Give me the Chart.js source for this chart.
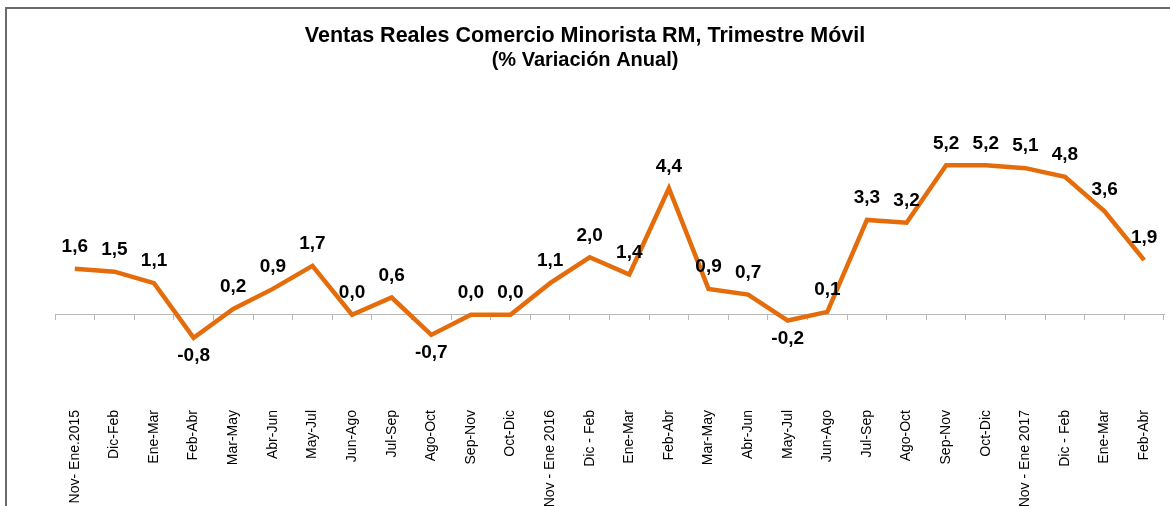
<!DOCTYPE html>
<html>
<head>
<meta charset="utf-8">
<script src="https://cdn.jsdelivr.net/npm/chart.js@4"></script>
<style>
    html, body { margin: 0; padding: 0; background: #fff; overflow: hidden; }
    .frame { position: absolute; left: 5px; top: 7px; width: 1300px; height: 600px; border-left: 2px solid #6b6b6b; border-top: 2px solid #6b6b6b; }
    .wrap { position: absolute; left: 0; top: 0; width: 1170px; height: 506px; }
</style>
</head>
<body>
<div class="frame"></div>
<div class="wrap"><canvas id="ventasChart"></canvas></div>
<script>
const categories = [
    'Nov- Ene.2015', 'Dic-Feb', 'Ene-Mar', 'Feb-Abr', 'Mar-May', 'Abr-Jun', 'May-Jul',
    'Jun-Ago', 'Jul-Sep', 'Ago-Oct', 'Sep-Nov', 'Oct-Dic',
    'Nov - Ene 2016', 'Dic - Feb', 'Ene-Mar', 'Feb-Abr', 'Mar-May', 'Abr-Jun', 'May-Jul',
    'Jun-Ago', 'Jul-Sep', 'Ago-Oct', 'Sep-Nov', 'Oct-Dic',
    'Nov - Ene 2017', 'Dic - Feb', 'Ene-Mar', 'Feb-Abr'
];
const variacion = [
    1.6, 1.5, 1.1, -0.8, 0.2, 0.9, 1.7, 0.0, 0.6, -0.7, 0.0, 0.0,
    1.1, 2.0, 1.4, 4.4, 0.9, 0.7, -0.2, 0.1, 3.3, 3.2, 5.2, 5.2,
    5.1, 4.8, 3.6, 1.9
];
const titleText = 'Ventas Reales Comercio Minorista RM, Trimestre Móvil';
const subtitleText = '(% Variación Anual)';

const FONT = "'Liberation Sans', Arial, sans-serif";

// values over (or under, when negative) each point
const valueLabels = {
    id: 'valueLabels',
    afterDatasetsDraw(chart) {
        const ctx = chart.ctx;
        const meta = chart.getDatasetMeta(0);
        ctx.save();
        ctx.font = 'bold 19px ' + FONT;
        ctx.fillStyle = '#000';
        ctx.textAlign = 'center';
        ctx.textBaseline = 'middle';
        meta.data.forEach((pt, i) => {
            const v = variacion[i];
            const text = v.toFixed(1).replace('.', ',');
            const y = v < 0 ? pt.y + 18 : pt.y - 22;
            ctx.fillText(text, pt.x, y);
        });
        ctx.restore();
    }
};

function initChart() {
    const canvas = document.getElementById('ventasChart');
    if (!canvas || typeof Chart === 'undefined') return;

    new Chart(canvas.getContext('2d'), {
        type: 'line',
        data: {
            labels: categories,
            datasets: [{
                data: variacion,
                borderColor: '#e46c0a',
                borderWidth: 4.5,
                pointRadius: 0,
                tension: 0,
                xAxisID: 'x'
            }]
        },
        plugins: [valueLabels],
        options: {
            responsive: true,
            maintainAspectRatio: false,
            animation: false,
            layout: { padding: { top: 23, left: 6, right: 6, bottom: 0 } },
            plugins: {
                legend: { display: false },
                tooltip: { enabled: false },
                title: {
                    display: true,
                    text: titleText,
                    color: '#000',
                    font: { family: FONT, size: 21.5, weight: 'bold' },
                    padding: { top: 0, bottom: 0 }
                },
                subtitle: {
                    display: true,
                    text: subtitleText,
                    color: '#000',
                    font: { family: FONT, size: 20, weight: 'bold' },
                    padding: { top: 0, bottom: 12 }
                }
            },
            scales: {
                x: {
                    type: 'category',
                    position: 'bottom',
                    offset: true,
                    grid: { display: false, offset: true },
                    border: { display: false },
                    ticks: {
                        color: '#000',
                        font: { family: FONT, size: 14 },
                        autoSkip: false,
                        minRotation: 90,
                        maxRotation: 90,
                        padding: 1
                    },
                    afterFit(scale) { scale.height = 105; }
                },
                x0: {
                    type: 'category',
                    labels: categories,
                    position: { y: 0 },
                    offset: true,
                    grid: { display: true, offset: true, drawOnChartArea: false, drawTicks: true, tickLength: 5, color: '#b8b8b8' },
                    border: { display: true, color: '#b8b8b8', width: 1 },
                    ticks: { display: false }
                },
                y: {
                    display: true,
                    min: -3,
                    max: 8,
                    grid: { display: false },
                    border: { display: false },
                    ticks: { display: false },
                    afterFit(scale) { scale.width = 49; }
                }
            }
        }
    });
}

document.addEventListener('DOMContentLoaded', initChart);
</script>
</body>
</html>
